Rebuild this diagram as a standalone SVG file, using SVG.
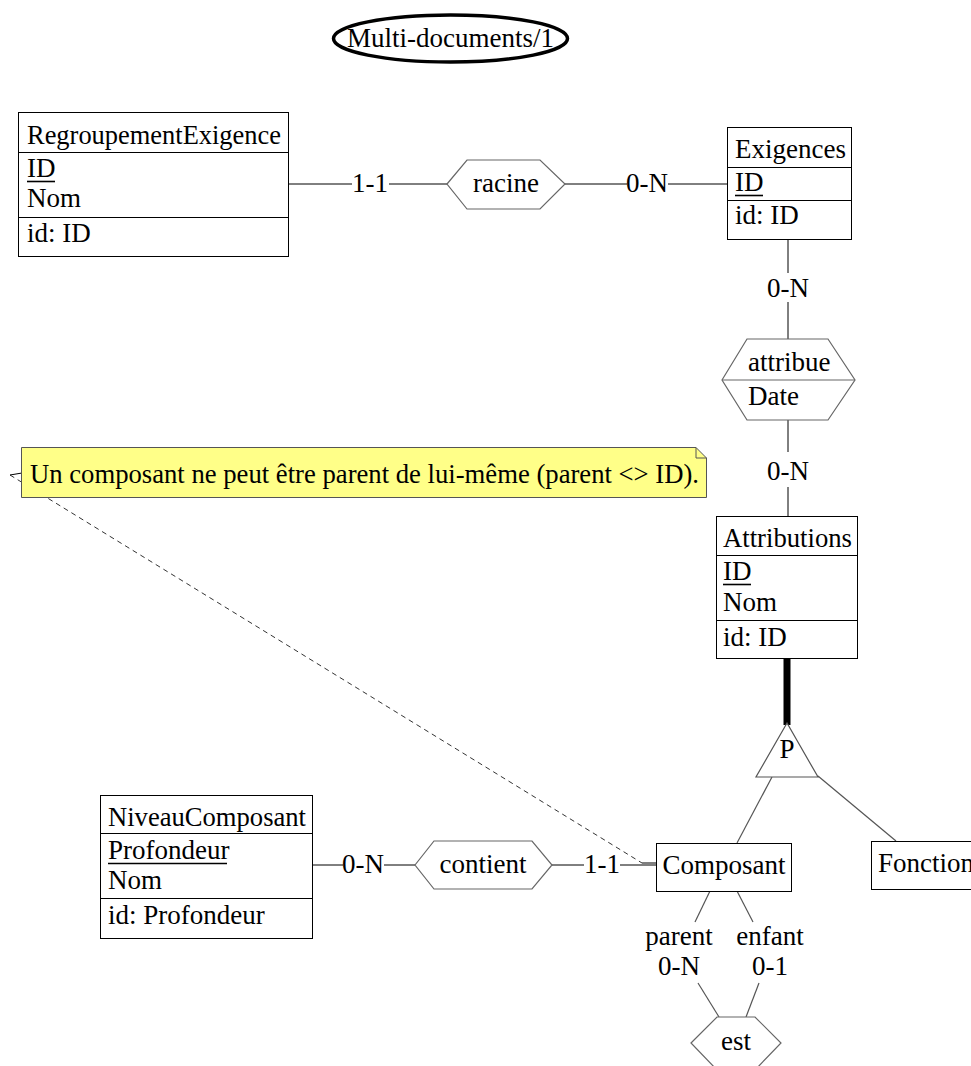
<svg xmlns="http://www.w3.org/2000/svg" width="971" height="1066" viewBox="0 0 971 1066" font-family="Liberation Serif" font-size="27">
<style>
text{fill:#000}
.c{text-anchor:middle}
.box{fill:#fff;stroke:#000;stroke-width:1}
.div{stroke:#000;stroke-width:1}
.hex{fill:#fff;stroke:#666;stroke-width:1.2}
.ln{stroke:#000;stroke-width:1;fill:none}
.gl{stroke:#555;stroke-width:1.2;fill:none}
.ul{stroke:#000;stroke-width:1.6}
</style>
<rect width="971" height="1066" fill="#fff"/>

<g id="title">
<ellipse cx="450.5" cy="38.5" rx="117" ry="23.5" fill="#fff" stroke="#000" stroke-width="3.5"/>
<text x="450.5" y="47" class="c">Multi-documents/1</text>
</g>

<g id="connectors">
<line class="ln" x1="289" y1="184" x2="352" y2="184"/>
<text x="370" y="192" class="c">1-1</text>
<line class="ln" x1="389" y1="184" x2="447" y2="184"/>
<line class="ln" x1="565" y1="184" x2="627" y2="184"/>
<text x="647" y="192" class="c">0-N</text>
<line class="ln" x1="668" y1="184" x2="727" y2="184"/>

<line class="ln" x1="788" y1="240" x2="788" y2="273"/>
<text x="788" y="297" class="c">0-N</text>
<line class="ln" x1="788" y1="302" x2="788" y2="339"/>
<line class="ln" x1="788" y1="420" x2="788" y2="452"/>
<text x="788" y="480" class="c">0-N</text>
<line class="ln" x1="788" y1="487" x2="788" y2="517"/>

<line x1="787" y1="658" x2="787" y2="725" stroke="#000" stroke-width="7"/>
<line class="gl" x1="772" y1="777" x2="737" y2="843"/>
<line class="gl" x1="818" y1="776" x2="896" y2="841"/>

<line class="ln" x1="312" y1="865" x2="343" y2="865"/>
<text x="363" y="873" class="c">0-N</text>
<line class="ln" x1="384" y1="865" x2="415" y2="865"/>
<line class="ln" x1="552" y1="865" x2="584" y2="865"/>
<text x="602" y="873" class="c">1-1</text>
<line class="ln" x1="620" y1="865" x2="656" y2="865"/>

<line class="gl" x1="710" y1="891" x2="695" y2="922"/>
<line class="gl" x1="737" y1="891" x2="753" y2="922"/>
<text x="679" y="945" class="c">parent</text>
<text x="770" y="945" class="c">enfant</text>
<text x="679" y="975" class="c">0-N</text>
<text x="770" y="975" class="c">0-1</text>
<line class="gl" x1="698" y1="983" x2="719" y2="1017"/>
<line class="gl" x1="759" y1="983" x2="746" y2="1017"/>

<line class="ln" x1="22" y1="473" x2="10" y2="475"/>
<line x1="10" y1="475" x2="642" y2="863" stroke="#000" stroke-width="0.8" stroke-dasharray="5,4"/>
<line class="ln" x1="642" y1="863" x2="656" y2="863"/>
</g>

<g id="RegroupementExigence">
<rect class="box" x="18.5" y="112.5" width="270" height="144"/>
<line class="div" x1="18.5" y1="152.5" x2="288.5" y2="152.5"/>
<line class="div" x1="18.5" y1="217.5" x2="288.5" y2="217.5"/>
<text x="27" y="144" textLength="254" lengthAdjust="spacingAndGlyphs">RegroupementExigence</text>
<text x="27" y="177">ID</text>
<line class="ul" x1="27" y1="181.5" x2="55" y2="181.5"/>
<text x="27" y="207">Nom</text>
<text x="27" y="242">id: ID</text>
</g>

<g id="racine">
<polygon class="hex" points="447,184 467,160 540,160 565,184 540,209 467,209"/>
<text x="506" y="192" class="c">racine</text>
</g>

<g id="Exigences">
<rect class="box" x="727.5" y="127.5" width="124" height="112"/>
<line class="div" x1="727.5" y1="167.5" x2="851.5" y2="167.5"/>
<line class="div" x1="727.5" y1="200.5" x2="851.5" y2="200.5"/>
<text x="735" y="158">Exigences</text>
<text x="735" y="191">ID</text>
<line class="ul" x1="735" y1="195.5" x2="763" y2="195.5"/>
<text x="735" y="224">id: ID</text>
</g>

<g id="attribue">
<polygon class="hex" points="722,380 747,339 828,339 855,380 828,420 747,420"/>
<line x1="722" y1="380" x2="855" y2="380" stroke="#666" stroke-width="1.2"/>
<text x="748" y="371">attribue</text>
<text x="748" y="405">Date</text>
</g>

<g id="note">
<path d="M21.5,447.5 H696 L706.5,458 V497.5 H21.5 Z" fill="#ffff88" stroke="#555" stroke-width="1"/>
<path d="M696,447.5 V458 H706.5" fill="none" stroke="#555" stroke-width="1"/>
<text x="30" y="483" textLength="669" lengthAdjust="spacingAndGlyphs">Un composant ne peut être parent de lui-même (parent &lt;&gt; ID).</text>
</g>

<g id="Attributions">
<rect class="box" x="716.5" y="516.5" width="141" height="142"/>
<line class="div" x1="716.5" y1="555.5" x2="857.5" y2="555.5"/>
<line class="div" x1="716.5" y1="620.5" x2="857.5" y2="620.5"/>
<text x="723" y="547" textLength="129" lengthAdjust="spacingAndGlyphs">Attributions</text>
<text x="723" y="580">ID</text>
<line class="ul" x1="723" y1="584.5" x2="751" y2="584.5"/>
<text x="723" y="611">Nom</text>
<text x="723" y="646">id: ID</text>
</g>

<g id="isa">
<polygon points="787,723 756,777 818,777" fill="#fff" stroke="#555" stroke-width="1.2"/>
<text x="787" y="758" class="c">P</text>
</g>

<g id="NiveauComposant">
<rect class="box" x="100.5" y="795.5" width="212" height="143"/>
<line class="div" x1="100.5" y1="833.5" x2="312.5" y2="833.5"/>
<line class="div" x1="100.5" y1="898.5" x2="312.5" y2="898.5"/>
<text x="108" y="826" textLength="198" lengthAdjust="spacingAndGlyphs">NiveauComposant</text>
<text x="108" y="859">Profondeur</text>
<line class="ul" x1="108" y1="863.5" x2="227" y2="863.5"/>
<text x="108" y="889">Nom</text>
<text x="108" y="924">id: Profondeur</text>
</g>

<g id="contient">
<polygon class="hex" points="415,865 434,841 532,841 552,865 532,889 434,889"/>
<text x="483" y="873" class="c">contient</text>
</g>

<g id="Composant">
<rect class="box" x="656.5" y="843.5" width="135" height="48"/>
<text x="724" y="874" class="c">Composant</text>
</g>

<g id="Fonction">
<rect class="box" x="871.5" y="841.5" width="110" height="48"/>
<text x="878" y="872">Fonction</text>
</g>

<g id="est">
<polygon class="hex" points="691,1043 717,1017 755,1017 781,1043 755,1070 717,1070"/>
<text x="736" y="1050" class="c">est</text>
</g>
</svg>
